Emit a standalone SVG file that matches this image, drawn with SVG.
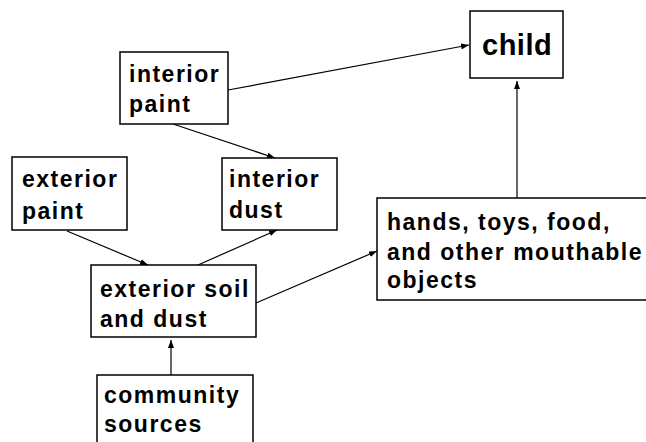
<svg xmlns="http://www.w3.org/2000/svg" width="646" height="442" viewBox="0 0 646 442">
  <style>
    .box { fill: #ffffff; stroke: #000000; stroke-width: 1.5; }
    .lbl { font-family: "Liberation Sans", Arial, sans-serif; font-weight: bold; font-size: 23px; letter-spacing: 1.5px; fill: #000000; }
    .big { font-size: 29px; letter-spacing: 0.5px; }
    .conn { stroke: #000000; stroke-width: 1.2; fill: none; marker-end: url(#arrow); }
  </style>
  <defs>
    <marker id="arrow" markerUnits="userSpaceOnUse" markerWidth="8" markerHeight="6" refX="8" refY="3" orient="auto">
      <path d="M0,0 L8,3 L0,6 z" fill="#000000"/>
    </marker>
  </defs>
  <rect x="0" y="0" width="646" height="442" fill="#ffffff"/>

  <g id="connectors">
    <line class="conn" x1="228" y1="90" x2="469" y2="45"/>
    <line class="conn" x1="173" y1="124" x2="275" y2="158"/>
    <line class="conn" x1="67" y1="231" x2="148" y2="265"/>
    <line class="conn" x1="198" y1="265" x2="277" y2="230"/>
    <line class="conn" x1="256" y1="303" x2="377" y2="251"/>
    <line class="conn" x1="171" y1="375" x2="171" y2="340"/>
    <line class="conn" x1="517" y1="198" x2="517" y2="81"/>
  </g>

  <g id="child">
    <rect class="box" x="470" y="11" width="93" height="67"/>
    <text class="lbl big" x="482" y="55">child</text>
  </g>

  <g id="interior-paint">
    <rect class="box" x="120" y="52" width="108" height="72"/>
    <text class="lbl" x="129" y="82">interior</text>
    <text class="lbl" x="129" y="112">paint</text>
  </g>

  <g id="exterior-paint">
    <rect class="box" x="12" y="157" width="115" height="73"/>
    <text class="lbl" x="22" y="187">exterior</text>
    <text class="lbl" x="22" y="219">paint</text>
  </g>

  <g id="interior-dust">
    <rect class="box" x="222" y="158" width="115" height="72"/>
    <text class="lbl" x="229" y="187">interior</text>
    <text class="lbl" x="229" y="218">dust</text>
  </g>

  <g id="hands-toys-food">
    <rect class="box" x="377" y="198" width="275" height="102"/>
    <text class="lbl" x="387" y="230">hands, toys, food,</text>
    <text class="lbl" x="387" y="260">and other mouthable</text>
    <text class="lbl" x="387" y="288">objects</text>
  </g>

  <g id="exterior-soil">
    <rect class="box" x="91" y="265" width="165" height="72"/>
    <text class="lbl" x="100" y="297">exterior soil</text>
    <text class="lbl" x="100" y="327">and dust</text>
  </g>

  <g id="community-sources">
    <rect class="box" x="97" y="375" width="156" height="80"/>
    <text class="lbl" x="104" y="403">community</text>
    <text class="lbl" x="104" y="432">sources</text>
  </g>
</svg>
